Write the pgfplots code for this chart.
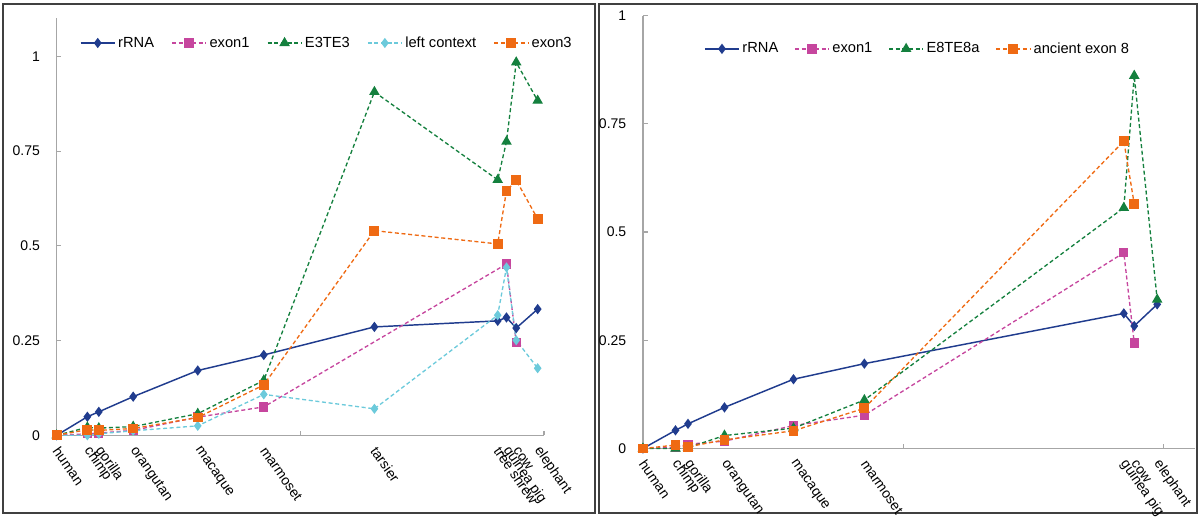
\documentclass[border=0pt]{standalone}
\usepackage{pgfplots}
\pgfplotsset{compat=1.18}
\usepackage{fontspec}
\setmainfont{Liberation Sans}

\definecolor{cRRNA}{HTML}{203C8E}
\definecolor{cMag}{HTML}{C6469E}
\definecolor{cGreen}{HTML}{14803E}
\definecolor{cCyan}{HTML}{6CCADB}
\definecolor{cOrange}{HTML}{EF6A13}
\definecolor{axgray}{HTML}{A6A6A6}
\definecolor{boxgray}{HTML}{404040}

\pgfplotsset{
  panel/.style={
    scale only axis, clip=false,
    axis lines=left,
    axis line style={axgray, line width=0.9pt, -},
    tick align=inside, major tick length=3.5pt,
    tick style={axgray, line width=0.8pt},
    xmin=0, ymin=0,
    ytick={0,0.25,0.5,0.75,1},
    /pgf/number format/assume math mode=true,
    yticklabel style={font=\fontsize{10.5}{12}\selectfont, xshift=-9pt},
    xtick={1,2}, xticklabels={,,},
    extra x tick style={tick style={draw=none}, xticklabel style={rotate=-55, anchor=west, inner sep=0pt, font=\fontsize{10.5}{12}\selectfont, xshift=7.7pt, yshift=-5.9pt}},
    legend style={draw=none, fill=none, font=\fontsize{11}{13}\selectfont, anchor=center},
    legend columns=-1,
    legend image code/.code={\draw[mark repeat=2,mark phase=2] plot coordinates {(0cm,0cm) (0.45cm,0cm) (0.9cm,0cm)};},
  },
  sRRNA/.style={cRRNA, line width=1.1pt, solid, mark=diamond*, mark size=3pt, mark options={solid, fill=cRRNA}},
  sMag/.style={cMag, line width=1pt, dash pattern=on 3pt off 2pt, mark=square*, mark size=3pt, mark options={solid, fill=cMag}},
  sGreen/.style={cGreen, line width=1pt, dash pattern=on 3pt off 2pt, mark=triangle*, mark size=3.6pt, mark options={solid, fill=cGreen}},
  sCyan/.style={cCyan, line width=1pt, dash pattern=on 3pt off 2pt, mark=diamond*, mark size=3pt, mark options={solid, fill=cCyan}},
  sOrange/.style={cOrange, line width=1pt, dash pattern=on 3pt off 2pt, mark=square*, mark size=3.2pt, mark options={solid, fill=cOrange}},
}

\begin{document}
\begin{tikzpicture}
\useasboundingbox (0,0) rectangle (900pt,390pt);
\draw[boxgray, line width=1.2pt] (2.25pt,5.25pt) rectangle (446.25pt,387pt);
\draw[boxgray, line width=1.2pt] (449.25pt,5.25pt) rectangle (897.75pt,387pt);

% ---------------- left panel ----------------
\begin{axis}[panel,
  at={(42.5pt,63.5pt)}, anchor=south west,
  width=365.5pt, height=312.7pt,
  xmax=2, ymax=1.1,
  extra x ticks={0,0.126,0.173,0.314,0.579,0.85,1.304,1.81,1.846,1.886,1.974},
  extra x tick labels={human,chimp,gorilla,orangutan,macaque,marmoset,tarsier,tree shrew,guinea pig,cow,elephant},
  legend style={at={(0.555,0.941)}, /tikz/every even column/.append style={column sep=11pt}},
]
\addplot[sRRNA] coordinates {(0,0) (0.126,0.049) (0.173,0.062) (0.314,0.102) (0.579,0.171) (0.85,0.212) (1.304,0.286) (1.81,0.302) (1.846,0.311) (1.886,0.283) (1.974,0.333)};
\addlegendentry{rRNA}
\addplot[sMag] coordinates {(0,0) (0.126,0.004) (0.173,0.006) (0.314,0.013) (0.579,0.048) (0.85,0.075) (1.846,0.452) (1.886,0.245)};
\addlegendentry{exon1}
\addplot[sGreen] coordinates {(0,0) (0.126,0.021) (0.173,0.019) (0.314,0.023) (0.579,0.057) (0.85,0.145) (1.304,0.906) (1.81,0.674) (1.846,0.775) (1.886,0.984) (1.974,0.883)};
\addlegendentry{E3TE3}
\addplot[sCyan] coordinates {(0,0) (0.126,0) (0.173,0.004) (0.314,0.012) (0.579,0.025) (0.85,0.108) (1.304,0.07) (1.81,0.317) (1.846,0.443) (1.886,0.251) (1.974,0.177)};
\addlegendentry{left context}
\addplot[sOrange] coordinates {(0,0) (0.126,0.015) (0.173,0.013) (0.314,0.018) (0.579,0.047) (0.85,0.133) (1.304,0.54) (1.81,0.505) (1.846,0.645) (1.886,0.673) (1.974,0.571)};
\addlegendentry{exon3}
\end{axis}

% ---------------- right panel ----------------
\begin{axis}[panel,
  at={(482.2pt,53.6pt)}, anchor=south west,
  width=414.2pt, height=324.75pt,
  xmax=2.12, ymax=1,
  extra x ticks={0,0.125,0.173,0.313,0.578,0.85,1.846,1.886,1.974},
  extra x tick labels={human,chimp,gorilla,orangutan,macaque,marmoset,guinea pig,cow,elephant},
  legend style={at={(0.498,0.923)}, /tikz/every even column/.append style={column sep=10pt}},
]
\addplot[sRRNA] coordinates {(0,0) (0.125,0.042) (0.173,0.057) (0.313,0.095) (0.578,0.16) (0.85,0.196) (1.846,0.312) (1.886,0.283) (1.974,0.333)};
\addlegendentry{rRNA}
\addplot[sMag] coordinates {(0,0) (0.125,0.003) (0.173,0.01) (0.313,0.017) (0.578,0.053) (0.85,0.077) (1.846,0.452) (1.886,0.244)};
\addlegendentry{exon1}
\addplot[sGreen] coordinates {(0,0) (0.125,0) (0.173,0.002) (0.313,0.03) (0.578,0.047) (0.85,0.112) (1.846,0.556) (1.886,0.861) (1.974,0.344)};
\addlegendentry{E8TE8a}
\addplot[sOrange] coordinates {(0,0) (0.125,0.008) (0.173,0.004) (0.313,0.02) (0.578,0.041) (0.85,0.093) (1.846,0.71) (1.886,0.565)};
\addlegendentry{ancient exon 8}
\end{axis}
\end{tikzpicture}
\end{document}
